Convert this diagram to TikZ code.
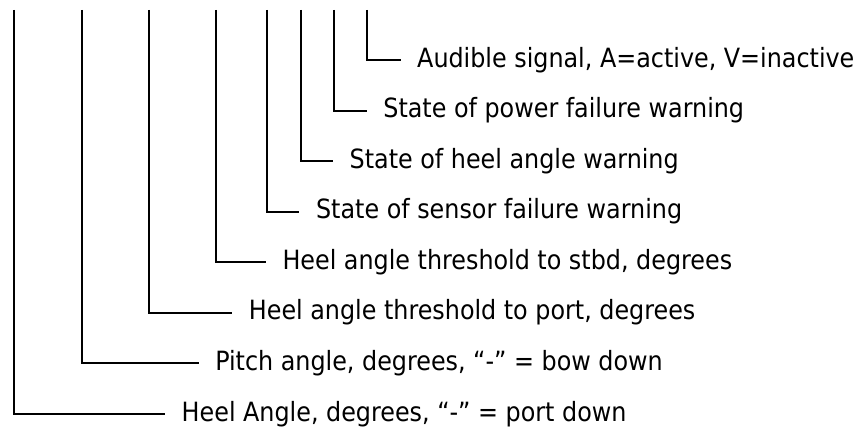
\documentclass[tikz,border=0pt]{standalone}
\usepackage{fontspec}
\setmainfont{DejaVu Sans Condensed}
\usetikzlibrary{calc}

\begin{document}
\begin{tikzpicture}[x=1pt, y=-1pt,
    every node/.style={font=\fontsize{26.5}{30}\selectfont, inner sep=0pt},
    lead/.style={line width=2pt}]
  \useasboundingbox (0,0) rectangle (853,428);

  % bit fields: top of lead, row, end of horizontal run, label
  \foreach \i/\x/\y/\e/\txt in {
    1/14/414/165/{Heel Angle, degrees, “-” = port down},
    2/82/363.4/198.6/{Pitch angle, degrees, “-” = bow down},
    3/148.7/312.9/232.2/{Heel angle threshold to port, degrees},
    4/216/262.3/265.8/{Heel angle threshold to stbd, degrees},
    5/266.7/211.7/299.4/{State of sensor failure warning},
    6/300.7/161.1/333/{State of heel angle warning},
    7/334/110.6/366.7/{State of power failure warning},
    8/367.3/60/400.5/{Audible signal, A=active, V=inactive}
  }{
    \coordinate (t\i) at (\x,10);
    \node[anchor=base west] (l\i) at (\e+16.5,\y+7) {\txt};
    \draw[lead] (t\i) |- ([xshift=-16.5pt, yshift=7pt]l\i.base west);
  }
\end{tikzpicture}
\end{document}
